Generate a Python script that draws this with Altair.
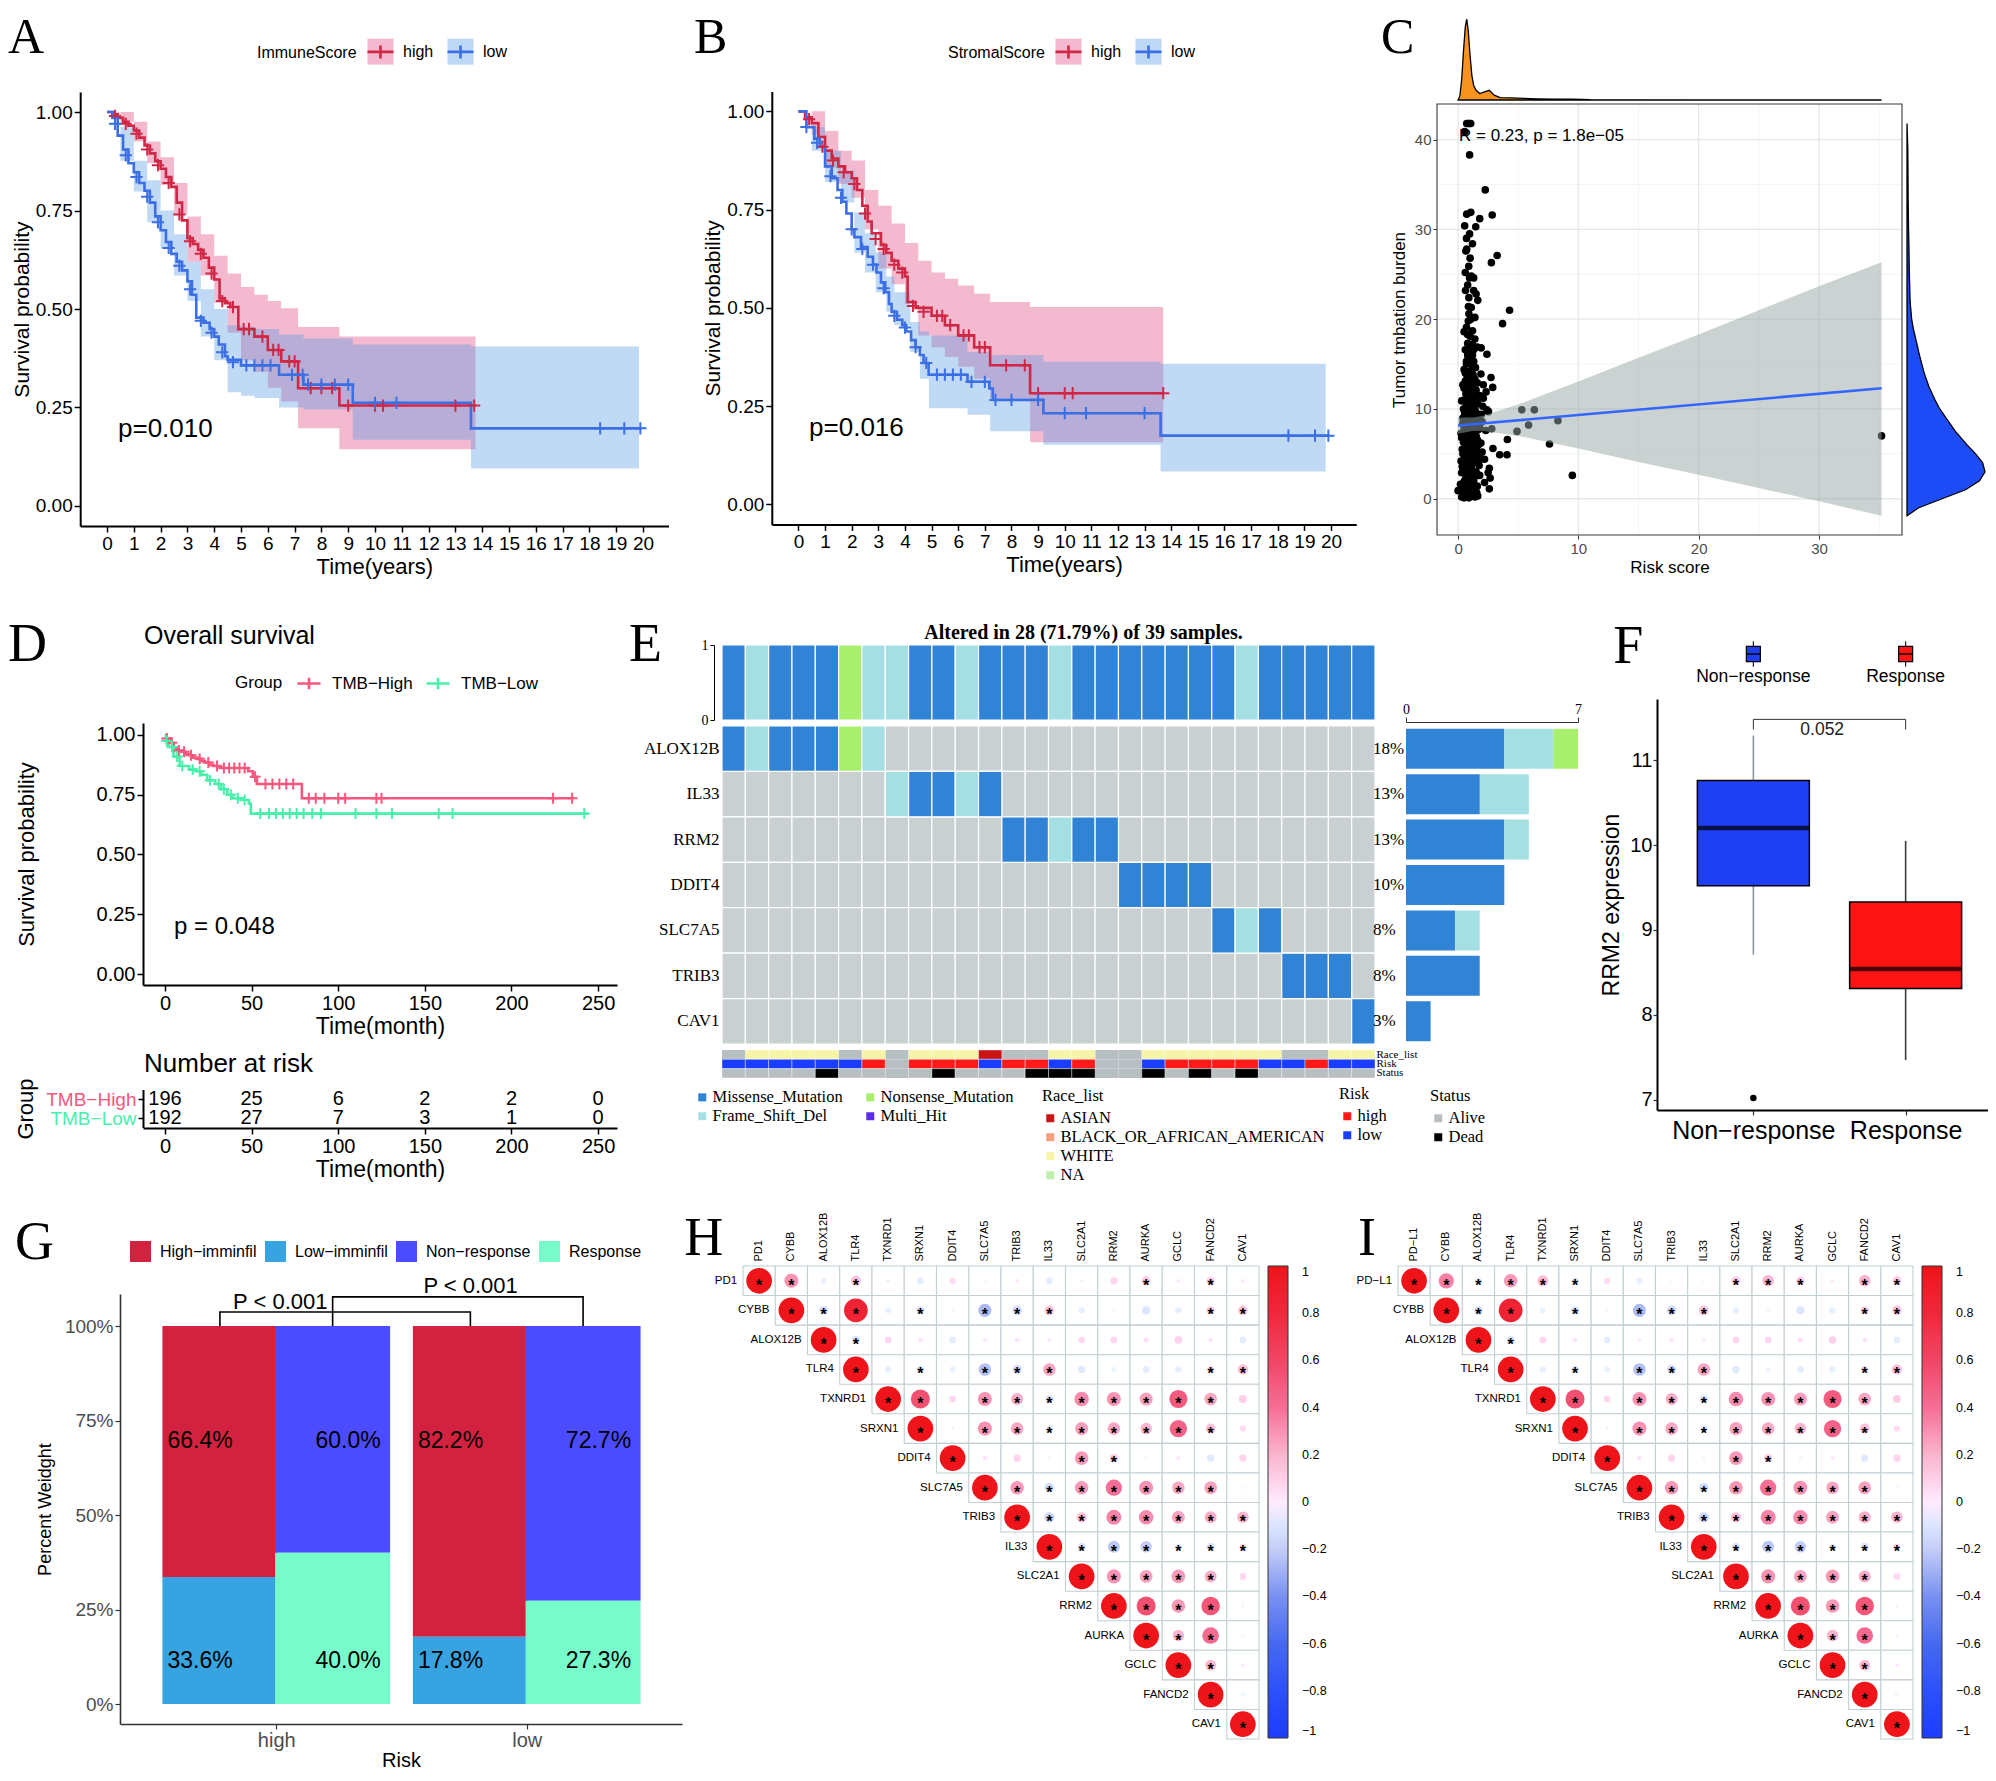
import altair as alt
import pandas as pd

W, H = 1980, 1765
SANS = "Liberation Sans"
SERIF = "Liberation Serif"
M = "\u2212"


def P(v):
    return v - 8


ONE = pd.DataFrame({"k": [0]})
PLUS = "M-1,0H1M0,-1V1"
KEY = "M-1,0H1M0,-0.5V0.5"

# ---------------- Panel A data ----------------
A_high_t = [0, 0.2, 0.4, 0.6, 0.8, 1.0, 1.2, 1.4, 1.6, 1.8, 2.0, 2.2, 2.4, 2.6, 2.8, 3.0, 3.2, 3.4, 3.6, 3.8,
            4.0, 4.2, 4.4, 4.6, 4.9, 5.5, 6.0, 6.5, 7.13, 8.67, 13.75]
A_high_s = [1.0, 0.995, 0.985, 0.975, 0.965, 0.953, 0.935, 0.915, 0.895, 0.875, 0.856, 0.835, 0.81, 0.77, 0.725,
            0.68, 0.665, 0.65, 0.63, 0.605, 0.575, 0.527, 0.515, 0.505, 0.449, 0.43, 0.396, 0.367, 0.299, 0.255, 0.255]
A_low_t = [0, 0.2, 0.4, 0.6, 0.8, 1.0, 1.2, 1.4, 1.6, 1.8, 2.0, 2.2, 2.4, 2.6, 2.8, 3.0, 3.17, 3.33, 3.6, 3.83,
           4.0, 4.17, 4.4, 4.5, 5.0, 6.42, 7.33, 9.17, 13.58, 19.95]
A_low_s = [1.0, 0.985, 0.94, 0.905, 0.87, 0.847, 0.82, 0.8, 0.77, 0.735, 0.70, 0.67, 0.64, 0.62, 0.598, 0.57,
           0.536, 0.478, 0.465, 0.449, 0.43, 0.41, 0.38, 0.371, 0.357, 0.333, 0.308, 0.262, 0.197, 0.197]
A_hband_t = [0, 0.5, 1.0, 1.5, 2.0, 2.5, 3.0, 3.5, 4.0, 4.5, 5.0, 5.5, 6.0, 6.5, 7.13, 8.67, 13.75]
A_hband_lo = [1.0, 0.975, 0.925, 0.87, 0.815, 0.74, 0.62, 0.585, 0.515, 0.44, 0.37, 0.34, 0.30, 0.265, 0.197, 0.144, 0.144]
A_hband_hi = [1.0, 1.0, 0.975, 0.925, 0.885, 0.82, 0.735, 0.69, 0.635, 0.59, 0.556, 0.536, 0.52, 0.502, 0.454, 0.43, 0.43]
A_lband_t = [0, 0.5, 1.0, 1.5, 2.0, 2.5, 3.0, 3.5, 4.0, 4.5, 5.0, 5.5, 6.42, 7.33, 9.17, 13.58, 19.85]
A_lband_lo = [1.0, 0.876, 0.798, 0.72, 0.653, 0.585, 0.52, 0.43, 0.37, 0.289, 0.28, 0.274, 0.25, 0.245, 0.168, 0.095, 0.095]
A_lband_hi = [1.0, 0.963, 0.876, 0.827, 0.75, 0.69, 0.62, 0.55, 0.5, 0.459, 0.455, 0.449, 0.435, 0.425, 0.41, 0.405, 0.405]
A_cens_high = [(0.3, 0.99), (0.7, 0.97), (1.1, 0.945), (1.5, 0.905), (1.9, 0.865), (2.3, 0.82), (2.7, 0.74),
               (3.1, 0.672), (3.5, 0.64), (3.9, 0.59), (4.3, 0.52), (4.7, 0.505), (5.1, 0.449), (5.3, 0.449),
               (5.8, 0.43), (6.2, 0.396), (6.4, 0.396), (6.8, 0.367), (7.0, 0.367), (7.6, 0.299), (8.0, 0.299),
               (8.4, 0.299), (9.0, 0.255), (10.0, 0.255), (10.3, 0.255), (13.0, 0.255), (13.7, 0.255)]
A_cens_low = [(0.3, 0.97), (0.7, 0.89), (1.1, 0.835), (1.5, 0.785), (1.9, 0.72), (2.3, 0.655), (2.7, 0.61),
              (3.1, 0.55), (3.5, 0.47), (3.9, 0.44), (4.3, 0.39), (4.7, 0.365), (5.2, 0.357), (5.5, 0.357),
              (5.8, 0.357), (6.1, 0.357), (6.9, 0.333), (7.3, 0.333), (7.5, 0.308), (8.0, 0.308), (8.5, 0.308),
              (9.0, 0.308), (10.0, 0.262), (10.8, 0.262), (18.4, 0.197), (19.3, 0.197), (19.9, 0.197)]

# ---------------- Panel B data ----------------
B_high_t = [0, 0.25, 0.5, 0.75, 1.0, 1.25, 1.5, 1.75, 2.0, 2.2, 2.4, 2.6, 2.75, 3.1, 3.3, 3.5, 3.75, 4.0, 4.1,
            4.4, 5.0, 5.5, 6.0, 6.6, 7.2, 8.7, 13.7]
B_high_s = [1.0, 0.985, 0.97, 0.935, 0.9, 0.88, 0.86, 0.845, 0.83, 0.8, 0.76, 0.72, 0.69, 0.66, 0.64, 0.62, 0.60,
            0.58, 0.515, 0.50, 0.48, 0.456, 0.43, 0.40, 0.354, 0.283, 0.283]
B_low_t = [0, 0.3, 0.6, 0.8, 1.0, 1.25, 1.47, 1.65, 1.8, 2.0, 2.1, 2.35, 2.6, 2.8, 2.93, 3.1, 3.26, 3.4, 3.5, 3.7,
           3.9, 4.05, 4.23, 4.4, 4.56, 4.7, 4.89, 6.35, 7.17, 7.3, 9.2, 13.6, 19.95]
B_low_s = [1.0, 0.96, 0.93, 0.91, 0.86, 0.83, 0.80, 0.77, 0.74, 0.70, 0.68, 0.655, 0.63, 0.61, 0.59, 0.565, 0.54,
           0.51, 0.49, 0.47, 0.456, 0.44, 0.418, 0.40, 0.38, 0.36, 0.33, 0.312, 0.295, 0.266, 0.232, 0.175, 0.175]
B_hband_t = [0, 0.5, 1.0, 1.5, 2.0, 2.5, 3.0, 3.5, 4.0, 4.5, 5.0, 5.5, 6.0, 6.6, 7.2, 8.7, 13.7]
B_hband_lo = [1.0, 0.94, 0.855, 0.815, 0.78, 0.70, 0.60, 0.56, 0.51, 0.43, 0.40, 0.375, 0.35, 0.32, 0.27, 0.158, 0.152]
B_hband_hi = [1.0, 1.0, 0.95, 0.90, 0.875, 0.80, 0.76, 0.715, 0.665, 0.62, 0.59, 0.574, 0.557, 0.536, 0.515, 0.502, 0.502]
B_lband_t = [0, 0.5, 1.0, 1.6, 2.1, 2.5, 2.9, 3.3, 3.6, 4.2, 4.56, 4.9, 6.35, 7.2, 9.2, 13.6, 19.8]
B_lband_lo = [1.0, 0.90, 0.82, 0.768, 0.64, 0.59, 0.54, 0.49, 0.456, 0.388, 0.32, 0.245, 0.228, 0.186, 0.152, 0.084, 0.084]
B_lband_hi = [1.0, 0.96, 0.90, 0.85, 0.743, 0.69, 0.641, 0.58, 0.54, 0.464, 0.44, 0.43, 0.388, 0.38, 0.363, 0.358, 0.358]
B_cens_high = [(0.4, 0.98), (0.9, 0.91), (1.3, 0.875), (1.7, 0.845), (2.1, 0.815), (2.5, 0.74), (2.9, 0.675),
               (3.2, 0.65), (3.6, 0.61), (3.9, 0.59), (4.3, 0.505), (4.7, 0.49), (5.2, 0.48), (5.4, 0.48),
               (5.7, 0.456), (6.2, 0.43), (6.4, 0.43), (6.8, 0.40), (7.0, 0.40), (7.8, 0.354), (8.5, 0.354),
               (9.0, 0.283), (10.0, 0.283), (10.3, 0.283), (13.7, 0.283)]
B_cens_low = [(0.3, 0.96), (0.7, 0.92), (1.2, 0.835), (1.6, 0.78), (2.0, 0.70), (2.4, 0.65), (2.8, 0.61),
              (3.2, 0.55), (3.6, 0.48), (4.0, 0.45), (4.4, 0.40), (4.8, 0.36), (5.2, 0.33), (5.5, 0.33),
              (5.8, 0.33), (6.1, 0.33), (6.5, 0.312), (7.0, 0.312), (7.4, 0.266), (8.0, 0.266), (9.0, 0.266),
              (10.0, 0.232), (10.8, 0.232), (13.0, 0.232), (18.4, 0.175), (19.4, 0.175), (19.9, 0.175)]

# ---------------- Panel C data ----------------
C_points = [
    (0.72, 41.8), (0.85, 41.8), (0.96, 41.8), (1.05, 41.8), (0.55, 40.9), (0.96, 38.3), (2.26, 34.4), (2.84, 31.6),
    (0.72, 31.7), (1.06, 31.9), (1.8, 31.2), (0.55, 30.4), (0.96, 29.5), (1.47, 30.3), (0.72, 27.8), (0.65, 27.6),
    (3.25, 27.1), (2.77, 26.3), (0.89, 25.9), (0.96, 24.6), (1.3, 24.6), (1.1, 24.8), (0.62, 23.2), (1.3, 23.2),
    (1.5, 22.8), (1.64, 22.1), (4.28, 21.0), (3.7, 19.5), (0.86, 21.4), (0.9, 20.6), (1.06, 20.0), (0.85, 19.8),
    (0.79, 18.3), (1.4, 17.8), (1.2, 17.2), (1.92, 16.8), (1.6, 16.9), (2.4, 16.1),
    (2.74, 13.5), (2.88, 12.4), (2.33, 11.9), (2.1, 11.2), (2.53, 9.7), (2.4, 9.9), (5.3, 9.9), (6.34, 9.9),
    (5.86, 8.2), (8.3, 8.7), (4.9, 7.5), (4.1, 6.6), (7.6, 6.1), (3.46, 4.9), (4.07, 4.9), (2.9, 5.6), (9.5, 2.6),
    (35.2, 7.0), (2.67, 2.3), (2.6, 1.1), (0.0, 0.9), (1.64, 0.3), (2.2, 4.4), (2.0, 5.2), (2.6, 3.4), (2.3, 7.6),
    (2.8, 7.8), (2.0, 8.6), (1.9, 13.9), (2.1, 12.7), (2.5, 2.9), (2.2, 1.8),
    (0.3, 0.2), (0.5, 0.1), (0.7, 0.3), (0.9, 0.1), (1.1, 0.4), (1.4, 0.2), (0.4, 1.2), (0.8, 1.5), (1.2, 1.1),
    (1.6, 1.4), (0.6, 2.1), (1.0, 2.4), (1.3, 2.0), (1.8, 2.6), (0.3, 2.9), (0.7, 3.2), (1.1, 3.5), (1.5, 3.0),
    (0.5, 3.9), (0.9, 4.2), (1.3, 4.5), (1.7, 4.1), (0.4, 5.0), (0.8, 5.3), (1.2, 5.6), (1.6, 5.2), (0.6, 6.1),
    (1.0, 6.4), (1.4, 6.0), (0.3, 6.8), (0.7, 7.1), (1.1, 7.4), (1.5, 7.0), (0.5, 7.9), (0.9, 8.2), (1.3, 8.5),
    (1.8, 8.0), (0.4, 9.0), (0.8, 9.3), (1.2, 9.6), (1.6, 9.1), (0.6, 10.1), (1.0, 10.4), (1.4, 10.0), (0.5, 11.0),
    (0.9, 11.3), (1.3, 11.6), (0.7, 12.2), (1.1, 12.5), (1.5, 12.1), (0.6, 13.1), (1.0, 13.4), (1.4, 13.0),
    (0.8, 14.2), (1.2, 14.5), (0.7, 15.3), (1.1, 15.0), (0.9, 16.2), (1.3, 16.6), (0.8, 17.3), (1.0, 18.1),
    (0.6, 4.6), (1.0, 1.8), (0.5, 8.6), (1.2, 3.9), (0.8, 10.8), (1.6, 6.6), (0.4, 12.7), (1.3, 9.0), (0.7, 5.8),
    (1.0, 7.7), (0.9, 2.8), (1.5, 11.0), (0.6, 14.0), (1.2, 16.0), (0.35, 3.6), (0.45, 6.3), (0.55, 9.6),
    (0.65, 11.7), (0.75, 13.7), (0.85, 15.8), (0.95, 0.7), (1.05, 3.0), (1.15, 5.1), (1.25, 7.0), (1.35, 12.9),
    (1.45, 14.6), (1.55, 8.3), (1.65, 10.6), (1.75, 3.7), (0.25, 4.2), (0.2, 1.6), (0.85, 6.9), (1.15, 9.9),
    (0.95, 12.0), (1.05, 15.6), (0.65, 8.9), (1.35, 4.8), (1.45, 2.5), (0.75, 0.9)]
C_points_extra = [
    (0.3, 1.0), (0.5, 1.9), (0.7, 2.5), (0.9, 3.6), (1.1, 4.8), (1.3, 5.9), (1.5, 6.8), (1.7, 7.7), (0.4, 8.4),
    (0.6, 9.4), (0.8, 10.3), (1.0, 11.2), (1.2, 12.1), (1.4, 13.3), (0.5, 14.4), (0.7, 15.0), (0.9, 13.9),
    (1.1, 13.0), (1.3, 11.0), (1.5, 9.6), (1.7, 6.0), (0.35, 5.5), (0.55, 4.4), (0.75, 3.9), (0.95, 5.8),
    (1.15, 2.2), (1.35, 1.3), (1.55, 0.7), (0.45, 0.6), (0.65, 1.2), (0.85, 2.0), (1.05, 4.1), (1.25, 6.3),
    (1.45, 7.9), (1.65, 9.0), (0.3, 10.9), (0.5, 12.3), (0.7, 10.7), (0.9, 9.7), (1.1, 8.8), (1.3, 7.5),
    (1.5, 5.5), (0.6, 16.6), (0.8, 16.0), (1.0, 17.0), (1.2, 18.7), (0.7, 19.1), (0.9, 22.4), (1.1, 21.3),
    (0.8, 23.8), (1.0, 26.8), (0.7, 29.0), (1.2, 28.4), (0.6, 25.2), (1.4, 20.2), (0.5, 18.6), (1.3, 15.3),
    (1.6, 12.9), (1.8, 11.5), (1.9, 6.2), (1.85, 4.5), (1.95, 9.4), (2.05, 10.3), (0.4, 3.1), (0.6, 7.4),
    (0.8, 8.0), (1.0, 9.0), (1.2, 10.6), (1.4, 8.9), (0.25, 7.3), (0.45, 10.0), (0.65, 12.9), (0.85, 11.9),
    (1.05, 14.2), (1.25, 13.8)]
C_fit_x = [0, 1.2, 2, 5, 10, 15, 20, 25, 30, 35.2]
C_fit_lo = [7.25, 7.54, 7.57, 7.0, 5.6, 4.1, 2.66, 1.2, -0.29, -1.9]
C_fit_hi = [9.05, 9.04, 9.21, 10.5, 13.06, 15.7, 18.3, 21.0, 23.67, 26.35]
C_line_x = [0, 35.2]
C_line_y = [8.15, 12.3]
C_dens_x = [0, 0.15, 0.3, 0.45, 0.6, 0.72, 0.85, 1.0, 1.15, 1.3, 1.5, 1.8, 2.2, 2.6, 3.0, 3.5, 4.5, 5.5, 6.5, 8,
            9.5, 11, 15, 20, 25, 30, 35.2]
C_dens_xd = [0, 0.05, 0.25, 0.6, 0.9, 1.0, 0.85, 0.55, 0.3, 0.18, 0.12, 0.08, 0.1, 0.12, 0.06, 0.03, 0.025, 0.02,
             0.015, 0.01, 0.012, 0.004, 0.002, 0.001, 0.001, 0.001, 0.0]
C_dens_y = [-1.9, -1.0, 0, 1, 2, 3, 4, 5, 6, 7.5, 9, 10, 11, 12.5, 14, 15, 16, 17.5, 19, 20, 22, 25, 28, 30, 33,
            36, 39, 41.8]
C_dens_yd = [0.0, 0.15, 0.45, 0.75, 0.93, 1.0, 0.97, 0.88, 0.77, 0.62, 0.5, 0.42, 0.36, 0.28, 0.22, 0.19, 0.16,
             0.12, 0.08, 0.06, 0.04, 0.03, 0.025, 0.02, 0.015, 0.013, 0.01, 0.0]
C_grid_major_x = [0, 10, 20, 30]
C_grid_minor_x = [5, 15, 25, 35]
C_grid_major_y = [0, 10, 20, 30, 40]
C_grid_minor_y = [5, 15, 25, 35]

# ---------------- Panel D data ----------------
D_groups = ["TMB" + M + "High", "TMB" + M + "Low"]
D_high_t = [0, 1, 2.7, 5, 7, 9.6, 12, 14, 16, 18.7, 21, 23, 26, 28, 32, 48, 50.7, 53, 79, 236]
D_high_s = [1.0, 0.985, 0.967, 0.945, 0.935, 0.93, 0.92, 0.915, 0.905, 0.9, 0.89, 0.885, 0.875, 0.87, 0.862,
            0.848, 0.825, 0.795, 0.735, 0.735]
D_low_t = [0, 0.5, 2, 5, 8.4, 14, 18, 21, 24.4, 29, 32.4, 36, 39, 45, 48.4, 49.5, 244]
D_low_s = [1.0, 0.975, 0.95, 0.91, 0.87, 0.855, 0.848, 0.833, 0.81, 0.795, 0.773, 0.75, 0.735, 0.728, 0.713,
           0.671, 0.671]
D_cens_high = [(1, 0.985), (4, 0.967), (8, 0.935), (11, 0.93), (15, 0.915), (20, 0.9), (25, 0.885), (30, 0.87),
               (34, 0.862), (37, 0.862), (40, 0.862), (43, 0.862), (46, 0.862), (52, 0.825), (58, 0.795),
               (62, 0.795), (66, 0.795), (70, 0.795), (74, 0.795), (83, 0.735), (87, 0.735), (92, 0.735),
               (100, 0.735), (104, 0.735), (122, 0.735), (125, 0.735), (224, 0.735), (235, 0.735)]
D_cens_low = [(1, 0.975), (4, 0.95), (7, 0.91), (10, 0.87), (16, 0.855), (20, 0.848), (26, 0.81), (31, 0.795),
              (34, 0.773), (38, 0.75), (42, 0.735), (46, 0.728), (55, 0.671), (60, 0.671), (64, 0.671),
              (68, 0.671), (72, 0.671), (76, 0.671), (80, 0.671), (85, 0.671), (90, 0.671), (110, 0.671),
              (122, 0.671), (131, 0.671), (158, 0.671), (166, 0.671), (242, 0.671)]
D_risk_times = [0, 50, 100, 150, 200, 250]
D_risk_high = [196, 25, 6, 2, 2, 0]
D_risk_low = [192, 27, 7, 3, 1, 0]

# ---------------- Panel E data ----------------
E_total = 39
E_samples = ["S%02d" % i for i in range(1, 29)]
E_genes = ["ALOX12B", "IL33", "RRM2", "DDIT4", "SLC7A5", "TRIB3", "CAV1"]
E_mut_gene = (["ALOX12B"] * 7 + ["IL33"] * 5 + ["RRM2"] * 5 + ["DDIT4"] * 4 + ["SLC7A5"] * 3 +
              ["TRIB3"] * 3 + ["CAV1"])
E_mut_code = list("MFMMMNF" + "FMMFM" + "MMFMM" + "MMMM" + "MFM" + "MMM" + "M")
E_type_names = {"M": "Missense_Mutation", "F": "Frame_Shift_Del", "N": "Nonsense_Mutation", "H": "Multi_Hit"}
E_race = [None, "WHITE", "WHITE", "WHITE", "WHITE", None, "WHITE", None, "WHITE", "WHITE", "WHITE", "ASIAN",
          None, None, "WHITE", "WHITE", None, None, "WHITE", "WHITE", "WHITE", "WHITE", "WHITE", "WHITE",
          None, None, "WHITE", "WHITE"]
E_risk = ["low"] * 6 + ["high", None, "high", "high", "high", "low", "high", "high", "low", "high", None, None,
                        "low", "high", "high", "high", "high", "low", "low", "high", "low", "low"]
E_status = ["Alive"] * 4 + ["Dead", "Alive", "Alive", None, "Alive", "Dead", "Alive", "Alive", "Alive", "Dead",
                            "Dead", "Dead", None, None, "Dead", "Alive", "Dead", "Alive", "Dead", "Alive",
                            "Alive", "Alive", "Alive", "Alive"]

# ---------------- Panel F data ----------------
F_groups = ["Non" + M + "response", "Response"]
F_q1 = [9.52, 8.31]
F_med = [10.2, 8.54]
F_q3 = [10.76, 9.33]
F_wlo = [8.71, 7.47]
F_whi = [11.29, 10.05]
F_out_grp = ["Non" + M + "response"]
F_out_val = [7.02]

# ---------------- Panel G data ----------------
G_risk = ["high", "high", "high", "high", "low", "low", "low", "low"]
G_kind = ["imm", "imm", "resp", "resp", "imm", "imm", "resp", "resp"]
G_cat = ["High" + M + "imminfil", "Low" + M + "imminfil", "Non" + M + "response", "Response"] * 2
G_pct = [0.664, 0.336, 0.600, 0.400, 0.822, 0.178, 0.727, 0.273]

# ---------------- Panels H / I data ----------------
HI_rest = ["CYBB", "ALOX12B", "TLR4", "TXNRD1", "SRXN1", "DDIT4", "SLC7A5", "TRIB3", "IL33", "SLC2A1", "RRM2",
           "AURKA", "GCLC", "FANCD2", "CAV1"]
R_PD1 = [0.30, -0.05, 0.15, 0.02, -0.07, 0.06, -0.02, 0.02, -0.07, 0.01, 0.08, 0.12, 0.02, 0.10, 0.02]
S_PD1 = [1, 0, 1, 0, 0, 0, 0, 0, 0, 0, 0, 1, 0, 1, 0]
R_PDL1 = [0.35, -0.07, 0.28, 0.18, -0.07, 0.06, -0.06, -0.02, -0.02, 0.12, 0.20, 0.11, 0.02, 0.20, 0.12]
S_PDL1 = [1, 1, 1, 1, 1, 0, 0, 0, 0, 1, 1, 1, 0, 1, 1]
R_rows = [
    [-0.12, 0.85, -0.05, -0.10, -0.02, -0.26, -0.14, 0.14, -0.06, -0.02, -0.10, -0.06, 0.10, 0.14],
    [-0.10, 0.07, 0.03, -0.07, 0.02, 0.03, 0.02, 0.07, 0.07, 0.04, 0.09, 0.03, -0.07],
    [-0.06, -0.08, -0.05, -0.24, -0.13, 0.24, -0.08, -0.04, -0.07, -0.06, 0.07, 0.16],
    [0.55, 0.07, 0.30, 0.22, -0.10, 0.32, 0.30, 0.26, 0.50, 0.24, 0.10],
    [0.01, 0.30, 0.24, -0.07, 0.26, 0.24, 0.20, 0.46, 0.15, 0.06],
    [0.03, 0.08, -0.02, 0.28, 0.10, -0.02, 0.02, -0.08, 0.08],
    [0.28, -0.14, 0.28, 0.40, 0.30, 0.24, 0.25, -0.02],
    [-0.16, 0.16, 0.34, 0.32, 0.25, 0.22, 0.20],
    [-0.10, -0.22, -0.20, -0.06, -0.10, 0.07],
    [0.30, 0.25, 0.28, 0.22, 0.07],
    [0.55, 0.28, 0.52, 0.01],
    [0.20, 0.42, -0.02],
    [0.18, 0.02],
    [-0.03],
]
S_rows = [
    [1, 1, 0, 1, 0, 1, 1, 1, 0, 0, 0, 0, 1, 1],
    [1, 0, 0, 0, 0, 0, 0, 0, 0, 0, 0, 0, 0],
    [0, 1, 0, 1, 1, 1, 0, 0, 0, 0, 1, 1],
    [1, 0, 1, 1, 1, 1, 1, 1, 1, 1, 0],
    [0, 1, 1, 1, 1, 1, 1, 1, 1, 0],
    [0, 0, 0, 1, 1, 0, 0, 0, 0],
    [1, 1, 1, 1, 1, 1, 1, 0],
    [1, 1, 1, 1, 1, 1, 1],
    [1, 1, 1, 1, 1, 1],
    [1, 1, 1, 1, 0],
    [1, 1, 1, 0],
    [1, 1, 0],
    [1, 0],
    [0],
]
CB_values = [1, 0.8, 0.6, 0.4, 0.2, 0, -0.2, -0.4, -0.6, -0.8, -1]


# ================= helpers =================
def ax_bottom(yline, **kw):
    base = dict(orient="bottom", offset=P(yline) - H, labelOverlap=False, labelFlush=False, grid=False,
                labelFont=SANS, titleFont=SANS, titleFontWeight="normal")
    base.update(kw)
    return alt.Axis(**base)


def ax_left(xline, **kw):
    base = dict(orient="left", offset=-P(xline), labelOverlap=False, labelFlush=False, grid=False,
                labelFont=SANS, titleFont=SANS, titleFontWeight="normal")
    base.update(kw)
    return alt.Axis(**base)


class Frame:
    """Scales + axes of one sub-panel; every layer of the sub-panel uses the same ones."""

    def __init__(self, xs, ys, ax=None, ay=None):
        self.xs, self.ys, self.ax, self.ay = xs, ys, ax, ay

    def x(self, f, **kw):
        return alt.X(f, scale=self.xs, axis=self.ax, **kw)

    def y(self, f, **kw):
        return alt.Y(f, scale=self.ys, axis=self.ay, **kw)

    def xd(self, v):
        return alt.XDatum(v, scale=self.xs, axis=self.ax)

    def yd(self, v):
        return alt.YDatum(v, scale=self.ys, axis=self.ay)

    def note(self, txt, x, y, **kw):
        return alt.Chart(ONE).mark_text(text=txt, **kw).encode(x=self.xd(x), y=self.yd(y))

    def letter(self, ch, x, y, size=54, **kw):
        return self.note(ch, x, y, font=SERIF, fontSize=size, align="left", baseline="alphabetic",
                         color="black", **kw)


def pairs_df(pts_a, pts_b, ga, gb, col):
    return pd.DataFrame({"t": [p[0] for p in pts_a] + [p[0] for p in pts_b],
                         "s": [p[1] for p in pts_a] + [p[1] for p in pts_b],
                         col: [ga] * len(pts_a) + [gb] * len(pts_b)})


def km_layers(fr, lines, cens, dom, colors, leg_stroke, bands=None, fills=None, leg_fill=None, csize=150):
    layers = []
    if bands is not None:
        layers.append(alt.Chart(bands).mark_area(interpolate="step-after", opacity=0.38).encode(
            x=fr.x("t:Q"), y=fr.y("lo:Q"), y2=alt.Y2("hi"),
            fill=alt.Fill("grp:N", scale=alt.Scale(range=fills), legend=leg_fill)))
    stroke = alt.Stroke("grp2:N", scale=alt.Scale(domain=dom, range=colors), legend=leg_stroke)
    layers.append(alt.Chart(lines).mark_line(interpolate="step-after", strokeWidth=2.6).encode(
        x=fr.x("t:Q"), y=fr.y("s:Q"), stroke=stroke))
    layers.append(alt.Chart(cens).mark_point(shape=PLUS, size=csize, strokeWidth=2, filled=False,
                                             opacity=1).encode(x=fr.x("t:Q"), y=fr.y("s:Q"), stroke=stroke))
    return layers


def km_legends(x, y, title):
    common = dict(orient="none", legendX=P(x), legendY=P(y), direction="horizontal", title=title,
                  titleOrient="left", titleAnchor="middle", titleBaseline="middle", titleFontSize=16,
                  titleFont=SANS, titleFontWeight="normal", titlePadding=9, labelFontSize=16, labelFont=SANS,
                  labelOffset=8, columnPadding=8, symbolSize=676, symbolStrokeWidth=2.6, padding=0)
    lf = alt.Legend(symbolType="square", symbolOpacity=0.38, symbolStrokeColor="transparent", **common)
    ls = alt.Legend(symbolType=KEY, symbolOpacity=1, titleOpacity=0, labelOpacity=0, **common)
    return lf, ls


KM_RED, KM_BLUE = "#CF2846", "#3B6FE3"
KM_FILLS = ["#E0487E", "#5A9BE6"]


def km_panel(xs, ys, xline, yline, lh, ll, bh, bl, ch, cl, legx, legtitle, ptxt, pxy, letxy):
    lines = pd.DataFrame({"t": lh[0] + ll[0], "s": lh[1] + ll[1],
                          "grp2": ["high"] * len(lh[0]) + ["low"] * len(ll[0])})
    bands = pd.DataFrame({"t": bh[0] + bl[0], "lo": bh[1] + bl[1], "hi": bh[2] + bl[2],
                          "grp": ["high"] * len(bh[0]) + ["low"] * len(bl[0])})
    cens = pairs_df(ch, cl, "high", "low", "grp2")
    ax = ax_bottom(yline, values=list(range(21)), title="Time(years)", labelFontSize=19, titleFontSize=22,
                   tickSize=6, tickWidth=1.5, domainWidth=2, labelPadding=2, titlePadding=3,
                   domainColor="black", tickColor="black", labelColor="black", titleColor="black")
    ay = ax_left(xline, values=[0, 0.25, 0.5, 0.75, 1], format=".2f", title="Survival probability",
                 labelFontSize=19, titleFontSize=21, tickSize=6, tickWidth=1.5, domainWidth=2, labelPadding=2,
                 titlePadding=3, domainColor="black", tickColor="black", labelColor="black", titleColor="black")
    fr = Frame(xs, ys, ax, ay)
    lf, ls = km_legends(legx, 37, legtitle)
    layers = km_layers(fr, lines, cens, ["high", "low"], [KM_RED, KM_BLUE], ls,
                       bands=bands, fills=KM_FILLS, leg_fill=lf)
    layers.append(fr.note(ptxt, pxy[0], pxy[1], font=SANS, fontSize=26, align="left", baseline="middle",
                          color="black"))
    layers.append(fr.letter(letxy[2], letxy[0], letxy[1], size=50))
    return alt.layer(*layers)


# ================= Panel A =================
SXa = alt.Scale(domain=[-1.0, 20.95], range=[P(80.2), P(668.5)], nice=False, zero=False)
SYa = alt.Scale(domain=[-0.0508, 1.0508], range=[P(526), P(92)], nice=False, zero=False)
panelA = km_panel(SXa, SYa, 80.2, 526, (A_high_t, A_high_s), (A_low_t, A_low_s),
                  (A_hband_t, A_hband_lo, A_hband_hi), (A_lband_t, A_lband_lo, A_lband_hi),
                  A_cens_high, A_cens_low, 257, "ImmuneScore", "p=0.010", (0.41, 0.195), (-3.69, 1.1497, "A"))

# ================= Panel B =================
SXb = alt.Scale(domain=[-1.0, 20.95], range=[P(771.8), P(1356.3)], nice=False, zero=False)
SYb = alt.Scale(domain=[-0.0508, 1.0508], range=[P(524.4), P(91.4)], nice=False, zero=False)
panelB = km_panel(SXb, SYb, 771.8, 524.4, (B_high_t, B_high_s), (B_low_t, B_low_s),
                  (B_hband_t, B_hband_lo, B_hband_hi), (B_lband_t, B_lband_lo, B_lband_hi),
                  B_cens_high, B_cens_low, 948, "StromalScore", "p=0.016", (0.40, 0.194), (-3.92, 1.1486, "B"))

# ================= Panel C =================
C_X0, C_X1, C_Y0, C_Y1 = -1.75, 36.9, -4.04, 43.97
SXc = alt.Scale(domain=[C_X0, C_X1], range=[P(1437), P(1902)], nice=False, zero=False)
SYc = alt.Scale(domain=[C_Y0, C_Y1], range=[P(535), P(104)], nice=False, zero=False)
axc_x = ax_bottom(535, values=[0, 10, 20, 30], title="Risk score", labelFontSize=15, titleFontSize=17,
                  labelColor="#4D4D4D", tickColor="#333333", tickSize=4, domain=False, labelPadding=2,
                  titlePadding=3, titleColor="black")
axc_y = ax_left(1437, values=[0, 10, 20, 30, 40], title="Tumor tmbation burden", labelFontSize=15,
                titleFontSize=17, labelColor="#4D4D4D", tickColor="#333333", tickSize=4, domain=False,
                labelPadding=2, titlePadding=6, titleColor="black")
frC = Frame(SXc, SYc, axc_x, axc_y)
C_df = pd.DataFrame(C_points + C_points_extra, columns=["risk", "tmb"])


def vgrid(vals, width, color):
    return alt.Chart(pd.DataFrame({"v": vals})).transform_calculate(
        a=str(C_Y0), b=str(C_Y1)).mark_rule(strokeWidth=width, color=color).encode(
        x=frC.x("v:Q"), y=frC.y("a:Q"), y2=alt.Y2("b"))


def hgrid(vals, width, color):
    return alt.Chart(pd.DataFrame({"v": vals})).transform_calculate(
        a=str(C_X0), b=str(C_X1)).mark_rule(strokeWidth=width, color=color).encode(
        y=frC.y("v:Q"), x=frC.x("a:Q"), x2=alt.X2("b"))


C_border = alt.Chart(ONE).transform_calculate(
    x0=str(C_X0), x1=str(C_X1), y0=str(C_Y0), y1=str(C_Y1)).mark_rect(
    fill="transparent", stroke="#3A3A3A", strokeWidth=1.1).encode(
    x=frC.x("x0:Q"), x2=alt.X2("x1"), y=frC.y("y0:Q"), y2=alt.Y2("y1"))
C_pts = alt.Chart(C_df).mark_circle(size=58, color="black", opacity=1).encode(
    x=frC.x("risk:Q"), y=frC.y("tmb:Q"))
C_band = alt.Chart(pd.DataFrame({"x": C_fit_x, "lo": C_fit_lo, "hi": C_fit_hi})).mark_area(
    color="#98A6A6", opacity=0.5).encode(x=frC.x("x:Q"), y=frC.y("lo:Q"), y2=alt.Y2("hi"))
C_fit = alt.Chart(pd.DataFrame({"x": C_line_x, "y": C_line_y})).mark_line(
    color="#3366FF", strokeWidth=2.6).encode(x=frC.x("x:Q"), y=frC.y("y:Q"))
panelC = alt.layer(
    vgrid(C_grid_minor_x, 0.7, "#EEF1F1"), hgrid(C_grid_minor_y, 0.7, "#EEF1F1"),
    vgrid(C_grid_major_x, 1.3, "#E3E8E8"), hgrid(C_grid_major_y, 1.3, "#E3E8E8"),
    C_border, C_pts, C_band, C_fit,
    frC.note("R = 0.23, p = 1.8e" + M + "05", 0.08, 40.35, font=SANS, fontSize=17, align="left",
             baseline="middle", color="black"),
    frC.letter("C", -6.4, 49.66, size=50))

SYct = alt.Scale(domain=[0, 1], range=[P(100), P(19)], nice=False, zero=False)
panelCtop = alt.Chart(pd.DataFrame({"x": C_dens_x, "d": C_dens_xd})).mark_area(
    fill="#F7931E", stroke="black", strokeWidth=1.3, opacity=1).encode(
    x=alt.X("x:Q", scale=SXc, axis=None), y=alt.Y("d:Q", scale=SYct, axis=None))
SXcr = alt.Scale(domain=[0, 1], range=[P(1907), P(1985)], nice=False, zero=False)
panelCright = alt.Chart(pd.DataFrame({"y": C_dens_y, "d": C_dens_yd})).mark_area(
    orient="horizontal", fill="#1D4CF6", stroke="black", strokeWidth=1.3, opacity=1).encode(
    y=alt.Y("y:Q", scale=SYc, axis=None), x=alt.X("d:Q", scale=SXcr, axis=None))

# ================= Panel D =================
D_HC, D_LC = "#F7577C", "#4AF0AA"
SXd = alt.Scale(domain=[-12.7, 260.9], range=[P(143), P(617)], nice=False, zero=False)
SYd = alt.Scale(domain=[-0.046, 1.05], range=[P(985), P(723)], nice=False, zero=False)
D_lines = pd.DataFrame({"t": D_high_t + D_low_t, "s": D_high_s + D_low_s,
                        "grp2": [D_groups[0]] * len(D_high_t) + [D_groups[1]] * len(D_low_t)})
D_cens = pairs_df(D_cens_high, D_cens_low, D_groups[0], D_groups[1], "grp2")
axd_x = ax_bottom(985, values=D_risk_times, title="Time(month)", labelFontSize=20, titleFontSize=23,
                  tickSize=6, tickWidth=1.5, domainWidth=2, labelPadding=2, titlePadding=2,
                  domainColor="black", tickColor="black", labelColor="black", titleColor="black")
axd_y = ax_left(143, values=[0, 0.25, 0.5, 0.75, 1], format=".2f", title="Survival probability",
                labelFontSize=20, titleFontSize=22, tickSize=6, tickWidth=1.5, domainWidth=2, labelPadding=2,
                titlePadding=58, domainColor="black", tickColor="black", labelColor="black", titleColor="black")
frD = Frame(SXd, SYd, axd_x, axd_y)
legD = alt.Legend(orient="none", legendX=P(235), legendY=P(670.5), direction="horizontal", title="Group",
                  titleOrient="left", titleAnchor="middle", titleBaseline="middle", titleFontSize=17,
                  titleFont=SANS, titleFontWeight="normal", titlePadding=13, labelFontSize=17, labelFont=SANS,
                  labelOffset=10, columnPadding=8, symbolType=KEY, symbolSize=529, symbolStrokeWidth=2.6,
                  padding=0)
D_layers = km_layers(frD, D_lines, D_cens, D_groups, [D_HC, D_LC], legD, csize=120)
D_layers += [
    frD.note("p = 0.048", 5.2, 0.197, font=SANS, fontSize=24, align="left", baseline="middle", color="black"),
    frD.note("Overall survival", -12.1, 1.414, font=SANS, fontSize=25, align="left", baseline="middle",
             color="black"),
    frD.note("Number at risk", -12.1, -0.377, font=SANS, fontSize=26, align="left", baseline="middle",
             color="black"),
    frD.letter("D", -90.6, 1.311),
]
panelD = alt.layer(*D_layers)

SYr = alt.Scale(domain=D_groups, range=[P(1089.5), P(1127.5)], paddingInner=0, paddingOuter=0)
D_rt = pd.DataFrame({"time": D_risk_times * 2, "grp": [D_groups[0]] * 6 + [D_groups[1]] * 6,
                     "n": D_risk_high + D_risk_low})
axr_x = ax_bottom(1128, values=D_risk_times, title="Time(month)", labelFontSize=20, titleFontSize=23,
                  tickSize=6, tickWidth=1.5, domainWidth=2, labelPadding=2, titlePadding=2,
                  domainColor="black", tickColor="black", labelColor="black", titleColor="black")
axr_y = ax_left(143, title="Group", titleFontSize=22, labelFontSize=19, tickSize=5, tickWidth=1.5,
                domainWidth=2, labelPadding=2, titlePadding=8, domainColor="black", tickColor="black",
                titleColor="black",
                labelColor={"condition": {"test": "datum.value === '%s'" % D_groups[0], "value": D_HC},
                            "value": D_LC})
panelDrisk = alt.Chart(D_rt).mark_text(fontSize=20, font=SANS, color="black").encode(
    x=alt.X("time:Q", scale=SXd, axis=axr_x), y=alt.Y("grp:N", scale=SYr, axis=axr_y), text="n:Q")

# ================= Panel E =================
MUT = alt.Scale(domain=["Missense_Mutation", "Frame_Shift_Del", "Nonsense_Mutation", "Multi_Hit"],
                range=["#3183D6", "#A4E0E3", "#A8EF6B", "#5B2EE8"])
E_mut = pd.DataFrame({"sample": E_samples, "gene": E_mut_gene, "type": [E_type_names[c] for c in E_mut_code]})
E_bg = pd.DataFrame([(g, s) for g in E_genes for s in E_samples], columns=["gene", "sample"])
ann_rows = []
for i, s in enumerate(E_samples):
    ann_rows.append({"sample": s, "row": "Race_list", "val": E_race[i]})
    ann_rows.append({"sample": s, "row": "Risk", "val": E_risk[i]})
    ann_rows.append({"sample": s, "row": "Status", "val": E_status[i]})
E_ann = pd.DataFrame(ann_rows)

SXe = alt.Scale(domain=E_samples, range=[P(722), P(1375)], paddingInner=0, paddingOuter=0)
SYe_top = alt.Scale(domain=[0, 1], range=[P(720), P(645)], nice=False, zero=True)
SYe_mat = alt.Scale(domain=E_genes, range=[P(726), P(1044)], paddingInner=0, paddingOuter=0)
SXe_r = alt.Scale(domain=[0, 7], range=[P(1406), P(1578)], nice=False, zero=True)
SYe_r = alt.Scale(domain=E_genes, range=[P(726), P(1044)], paddingInner=0.12, paddingOuter=0.06)
SYe_ann = alt.Scale(domain=["Race_list", "Risk", "Status"], range=[P(1050), P(1078)], paddingInner=0,
                    paddingOuter=0)

axe_top = ax_left(714, values=[0, 1], format="d", title=None, labelFont=SERIF, labelFontSize=14, tickSize=4,
                  labelPadding=2, domainColor="black", tickColor="black", labelColor="black")
frEt = Frame(SXe, SYe_top, None, axe_top)
panelEtop = alt.layer(
    alt.Chart(E_mut).mark_bar(stroke="white", strokeWidth=1.2).encode(
        x=frEt.x("sample:N"), y=frEt.y("count():Q"),
        color=alt.Color("type:N", scale=MUT, legend=None)),
    frEt.note("Altered in 28 (71.79%) of 39 samples.", "S16", 1.16, font=SERIF, fontSize=20,
              fontWeight="bold", align="center", baseline="middle", color="black"),
    frEt.letter("E", "S01", 0.787, dx=-104.7))

mut_leg = alt.Legend(orient="none", legendX=P(694), legendY=P(1089), title=None, columns=2, columnPadding=19,
                     rowPadding=2, symbolType="square", symbolSize=64, symbolStrokeWidth=0, labelFont=SERIF,
                     labelFontSize=16.5, labelOffset=2, padding=0, labelLimit=400)
axe_mat = ax_left(722, title=None, labelFont=SERIF, labelFontSize=17, ticks=False, domain=False,
                  labelPadding=3, labelColor="black")
frEm = Frame(SXe, SYe_mat, None, axe_mat)
panelEmat = alt.layer(
    alt.Chart(E_bg).mark_rect(color="#C8D0D2", stroke="white", strokeWidth=1.2).encode(
        x=frEm.x("sample:N"), y=frEm.y("gene:N")),
    alt.Chart(E_mut).mark_rect(stroke="white", strokeWidth=1.2).encode(
        x=frEm.x("sample:N"), y=frEm.y("gene:N"),
        color=alt.Color("type:N", scale=MUT, legend=mut_leg)))

axe_r = alt.Axis(orient="top", offset=-P(722), values=[0, 7], title=None, labelFont=SERIF, labelFontSize=14,
                 tickSize=5, labelPadding=1, domainColor="#333333", tickColor="#333333", labelColor="black",
                 grid=False, labelFlush=False, labelOverlap=False)
frEr = Frame(SXe_r, SYe_r, axe_r, None)
panelEright = alt.layer(
    alt.Chart(E_mut).transform_aggregate(n="count()", groupby=["gene", "type"]).transform_calculate(
        ord="indexof(['Missense_Mutation','Frame_Shift_Del','Nonsense_Mutation','Multi_Hit'], datum.type)"
    ).mark_bar().encode(
        x=frEr.x("n:Q", stack="zero"), y=frEr.y("gene:N"),
        color=alt.Color("type:N", scale=MUT, legend=None), order=alt.Order("ord:Q")),
    alt.Chart(E_mut).transform_aggregate(n="count()", groupby=["gene"]).transform_calculate(
        pct="round(datum.n / %d * 100) + '%%'" % E_total
    ).mark_text(font=SERIF, fontSize=17, align="left", baseline="middle", dx=-33, color="black").encode(
        x=frEr.xd(0), y=frEr.y("gene:N"), text="pct:N"))


def ann_leg(x, y, title):
    return alt.Legend(orient="none", legendX=P(x), legendY=P(y), title=title, titleFont=SERIF,
                      titleFontSize=16.5, titleFontWeight="normal", titlePadding=6, labelFont=SERIF,
                      labelFontSize=16.5, symbolType="square", symbolSize=64, symbolStrokeWidth=0,
                      rowPadding=2, labelOffset=2, padding=0, labelLimit=400)


axe_ann = alt.Axis(orient="right", offset=P(1375) - W, title=None, labelFont=SERIF, labelFontSize=11,
                   ticks=False, domain=False, labelPadding=1, labelColor="black", grid=False)
frEa = Frame(SXe, SYe_ann, None, axe_ann)
panelEann = alt.layer(
    alt.Chart(E_ann).mark_rect(color="#B7BFC3").encode(x=frEa.x("sample:N"), y=frEa.y("row:N")),
    alt.Chart(E_ann).transform_filter("datum.row == 'Race_list' && datum.val != null").mark_rect(
        stroke="white", strokeWidth=0.4).encode(
        x=frEa.x("sample:N"), y=frEa.y("row:N"),
        color=alt.Color("val:N", scale=alt.Scale(
            domain=["ASIAN", "BLACK_OR_AFRICAN_AMERICAN", "WHITE", "NA"],
            range=["#C81414", "#F4A07C", "#F6F4A6", "#BDEFA9"]), legend=ann_leg(1042, 1087.5, "Race_list"))),
    alt.Chart(E_ann).transform_filter("datum.row == 'Risk' && datum.val != null").mark_rect(
        stroke="white", strokeWidth=0.4).encode(
        x=frEa.x("sample:N"), y=frEa.y("row:N"),
        color=alt.Color("val:N", scale=alt.Scale(domain=["high", "low"], range=["#FF1A1A", "#1A3DFF"]),
                        legend=ann_leg(1339, 1085.5, "Risk"))),
    alt.Chart(E_ann).transform_filter("datum.row == 'Status' && datum.val != null").mark_rect(
        stroke="white", strokeWidth=0.4).encode(
        x=frEa.x("sample:N"), y=frEa.y("row:N"),
        color=alt.Color("val:N", scale=alt.Scale(domain=["Alive", "Dead"], range=["#B7BFC3", "#000000"]),
                        legend=ann_leg(1430, 1087.5, "Status"))),
).resolve_scale(color="independent")

# ================= Panel F =================
SXf = alt.Scale(domain=[0.4, 2.6], range=[P(1657), P(2002)], nice=False, zero=False)
SYf = alt.Scale(domain=[6.88, 11.72], range=[P(1110), P(699)], nice=False, zero=False)
F_df = pd.DataFrame({"grp": F_groups, "q1": F_q1, "med": F_med, "q3": F_q3, "wlo": F_wlo, "whi": F_whi})
F_pos = "datum.grp == 'Response' ? 2 : 1"
axf_x = ax_bottom(1110, values=[1, 2], labelExpr="datum.value == 1 ? '%s' : 'Response'" % F_groups[0],
                  title=None, labelFontSize=25, tickSize=5, tickWidth=1.2, domainWidth=2, labelPadding=3,
                  domainColor="black", tickColor="#333333", labelColor="black")
axf_y = ax_left(1657, values=[7, 8, 9, 10, 11], title="RRM2 expression", labelFontSize=20, titleFontSize=23,
                tickSize=4, tickWidth=1.2, domainWidth=2, labelPadding=1, titlePadding=6, domainColor="black",
                tickColor="#333333", labelColor="black", titleColor="black")
frF = Frame(SXf, SYf, axf_x, axf_y)
F_base = alt.Chart(F_df).transform_calculate(pos=F_pos)
F_fill = alt.Fill("grp:N", scale=alt.Scale(domain=F_groups, range=["#1E40F2", "#FF1414"]), legend=None)
BR_TOP, BR_LEG = 11.48, 11.36
F_br = pd.DataFrame({"pos": [1, 1, 2, 2], "v": [BR_LEG, BR_TOP, BR_TOP, BR_LEG], "o": [0, 1, 2, 3]})
panelF = alt.layer(
    F_base.mark_rule(strokeWidth=1.6).encode(
        x=frF.x("pos:Q"), y=frF.y("wlo:Q"), y2=alt.Y2("whi"),
        stroke=alt.Stroke("grp:N", scale=alt.Scale(domain=F_groups, range=["#8A98A2", "#3A3A3A"]),
                          legend=None)),
    F_base.mark_bar(size=112, stroke="black", strokeWidth=1.5).encode(
        x=frF.x("pos:Q"), y=frF.y("q1:Q"), y2=alt.Y2("q3"), fill=F_fill),
    F_base.mark_tick(orient="horizontal", size=112, thickness=4.5, color="black").encode(
        x=frF.x("pos:Q"), y=frF.y("med:Q")),
    alt.Chart(pd.DataFrame({"grp": F_out_grp, "val": F_out_val})).transform_calculate(pos=F_pos).mark_circle(
        size=42, color="black", opacity=1).encode(x=frF.x("pos:Q"), y=frF.y("val:Q")),
    alt.Chart(F_br).mark_line(color="#333333", strokeWidth=1).encode(
        x=frF.x("pos:Q"), y=frF.y("v:Q"), order="o:Q"),
    frF.note("0.052", 1.452, 11.36, font=SANS, fontSize=17.5, align="center", baseline="middle",
             color="#222222"),
    # legend keys (box icons above labels)
    F_base.transform_calculate(w0="12.1", w1="12.4").mark_rule(strokeWidth=1.2, color="#222222").encode(
        x=frF.x("pos:Q"), y=frF.y("w0:Q"), y2=alt.Y2("w1")),
    F_base.transform_calculate(i0="12.16", i1="12.34").mark_bar(size=14, stroke="black", strokeWidth=1.2).encode(
        x=frF.x("pos:Q"), y=frF.y("i0:Q"), y2=alt.Y2("i1"), fill=F_fill),
    F_base.transform_calculate(im="12.25").mark_tick(orient="horizontal", size=14, thickness=2,
                                                     color="black").encode(
        x=frF.x("pos:Q"), y=frF.y("im:Q")),
    F_base.transform_calculate(lt="11.98").mark_text(font=SANS, fontSize=17.5, baseline="middle",
                                                     color="black").encode(
        x=frF.x("pos:Q"), y=frF.y("lt:Q"), text="grp:N"),
    frF.letter("F", 0.08, 12.14))

# ================= Panel G =================
SXg = alt.Scale(domain=[0.396, 2.6], range=[P(120), P(682)], nice=False, zero=False)
SYg = alt.Scale(domain=[-0.0529, 1.0847], range=[P(1724), P(1294)], nice=False, zero=False)
G_df = pd.DataFrame({"risk": G_risk, "kind": G_kind, "cat": G_cat, "pct": G_pct})
G_xpos = "(datum.risk == 'high' ? 1 : 2) + (datum.kind == 'imm' ? -0.225 : 0.225)"
G_ord = "(datum.cat == 'Low%simminfil' || datum.cat == 'Response') ? 0 : 1" % M
G_base = alt.Chart(G_df).transform_calculate(xpos=G_xpos, ord=G_ord).transform_stack(
    stack="pct", groupby=["xpos"], sort=[alt.SortField("ord", order="ascending")], as_=["y0", "y1"])
G_leg = alt.Legend(orient="none", legendX=P(130), legendY=P(1241), direction="horizontal", title=None,
                   symbolType="square", symbolSize=441, symbolStrokeWidth=0, labelFontSize=16, labelFont=SANS,
                   labelOffset=9, columnPadding=8, padding=0)
axg_x = ax_bottom(1724, values=[1, 2], labelExpr="datum.value == 1 ? 'high' : 'low'", title="Risk",
                  labelFontSize=20, titleFontSize=20, tickSize=5, tickWidth=1.2, domainWidth=1.6,
                  labelPadding=1, titlePadding=0, domainColor="#333333", tickColor="#333333",
                  labelColor="#4D4D4D", titleColor="black")
axg_y = ax_left(120, values=[0, 0.25, 0.5, 0.75, 1], format=".0%", title="Percent Weidght", labelFontSize=19,
                titleFontSize=18, tickSize=5, tickWidth=1.2, domainWidth=1.6, labelPadding=2, titlePadding=10,
                domainColor="#333333", tickColor="#333333", labelColor="#4D4D4D", titleColor="black")
frG = Frame(SXg, SYg, axg_x, axg_y)
G_pos = {"high": 1, "low": 2}
G_dodge = {"imm": -0.225, "resp": 0.225}
G_cmp = [("imm", 1.037), ("resp", 1.077)]
br_rows = []
for k, (kind, top) in enumerate(G_cmp):
    xa = G_pos["high"] + G_dodge[kind]
    xb = G_pos["low"] + G_dodge[kind]
    for o, (xx, yy) in enumerate([(xa, 1.0), (xa, top), (xb, top), (xb, 1.0)]):
        br_rows.append({"xpos": xx, "y": yy, "o": o, "b": k})
G_br = pd.DataFrame(br_rows)
G_lab = G_base.transform_calculate(ly="datum.ord == 1 ? 0.695 : 0.113", lab="format(datum.pct, '.1%')")
panelG = alt.layer(
    G_base.mark_bar(size=115).encode(
        x=frG.x("xpos:Q"), y=frG.y("y0:Q"), y2=alt.Y2("y1"),
        fill=alt.Fill("cat:N", scale=alt.Scale(domain=G_cat[:4],
                                               range=["#D3223F", "#37A3E0", "#4B4BFF", "#78FBCB"]),
                      legend=G_leg)),
    G_lab.transform_filter("datum.kind == 'imm'").mark_text(
        align="left", dx=-52.5, fontSize=23, font=SANS, baseline="middle", color="black").encode(
        x=frG.x("xpos:Q"), y=frG.y("ly:Q"), text="lab:N"),
    G_lab.transform_filter("datum.kind == 'resp'").mark_text(
        align="right", dx=48, fontSize=23, font=SANS, baseline="middle", color="black").encode(
        x=frG.x("xpos:Q"), y=frG.y("ly:Q"), text="lab:N"),
    alt.Chart(G_br).mark_line(color="black", strokeWidth=1.6).encode(
        x=frG.x("xpos:Q"), y=frG.y("y:Q"), detail="b:N", order="o:Q"),
    frG.note("P < 0.001", 1.016, 1.063, font=SANS, fontSize=22, align="center", baseline="middle",
             color="black"),
    frG.note("P < 0.001", 1.776, 1.106, font=SANS, fontSize=22, align="center", baseline="middle",
             color="black"),
    frG.letter("G", -0.043, 1.177))

# ================= Panels H / I =================
CORR = alt.Scale(domain=[-1, -0.8, -0.6, -0.4, -0.2, 0, 0.2, 0.4, 0.6, 0.8, 1],
                 range=["#1E3CFF", "#2D50FA", "#4669F0", "#7891F0", "#C3CDF8", "#FFFFFF", "#FAB4CD",
                        "#F56E96", "#F04664", "#F0283C", "#EE1419"])


def corr_table(genes, first_r, first_s):
    rows = [first_r] + R_rows
    sigs = [first_s] + S_rows
    recs = []
    for i, g in enumerate(genes):
        recs.append({"row": g, "col": g, "r": 1.0, "sig": 1})
        if i < len(genes) - 1:
            for k, v in enumerate(rows[i]):
                recs.append({"row": g, "col": genes[i + 1 + k], "r": v, "sig": sigs[i][k]})
    return pd.DataFrame(recs)


def corr_panel(genes, first_r, first_s, x0, x1, cbx, ch, chdx):
    SX = alt.Scale(domain=genes, range=[P(x0), P(x1)], paddingInner=0, paddingOuter=0)
    SY = alt.Scale(domain=genes, range=[P(1266), P(1739)], paddingInner=0, paddingOuter=0)
    df = corr_table(genes, first_r, first_s)
    axx = alt.Axis(orient="top", offset=-P(1266), labelAngle=270, labelAlign="left", labelBaseline="middle",
                   labelPadding=5, ticks=False, domain=False, labelFontSize=11, labelFont=SANS,
                   labelColor="black", title=None, labelOverlap=False, grid=False)
    fr = Frame(SX, SY, axx, None)
    leg = alt.Legend(orient="none", legendX=P(cbx), legendY=P(1266), direction="vertical", gradientLength=472,
                     gradientThickness=20, title=None, values=CB_values, format="~g", labelFontSize=12.5,
                     labelFont=SANS, labelOffset=14, gradientStrokeColor="#333333", gradientStrokeWidth=1,
                     labelOverlap=False, padding=0)
    return alt.layer(
        alt.Chart(df).mark_rect(fill="white", stroke="#C2D0D5", strokeWidth=1.1).encode(
            x=fr.x("col:N"), y=fr.y("row:N")),
        alt.Chart(df).transform_calculate(absr="abs(datum.r)").mark_circle(opacity=1).encode(
            x=fr.x("col:N"), y=fr.y("row:N"),
            size=alt.Size("absr:Q", scale=alt.Scale(domain=[0, 1], range=[0, 660]), legend=None),
            color=alt.Color("r:Q", scale=CORR, legend=leg)),
        alt.Chart(df).transform_filter("datum.sig == 1").mark_text(
            text="*", fontSize=16, fontWeight="bold", dy=5, font=SANS, color="black").encode(
            x=fr.x("col:N"), y=fr.y("row:N")),
        alt.Chart(df).transform_filter("datum.row == datum.col").mark_text(
            align="right", baseline="middle", dx=-22, fontSize=11.5, font=SANS, color="black").encode(
            x=fr.x("col:N"), y=fr.y("row:N"), text="row:N"),
        alt.Chart(ONE).mark_text(text=ch, font=SERIF, fontSize=54, align="left", baseline="alphabetic",
                                 dx=chdx, dy=-26, color="black").encode(
            x=fr.xd(genes[0]), y=fr.yd(genes[0])))


panelH = corr_panel(["PD1"] + HI_rest, R_PD1, S_PD1, 743, 1259, 1268, "H", -75)
panelI = corr_panel(["PD" + M + "L1"] + HI_rest, R_PDL1, S_PDL1, 1398, 1913, 1922, "I", -56)

# ================= assemble =================
chart = alt.layer(
    panelA, panelB, panelC, panelCtop, panelCright, panelD, panelDrisk,
    panelEtop, panelEmat, panelEright, panelEann, panelF, panelG, panelH, panelI
).resolve_scale(
    x="independent", y="independent", color="independent", fill="independent", stroke="independent",
    size="independent"
).resolve_axis(x="independent", y="independent").resolve_legend(
    color="independent", fill="independent", stroke="independent", size="independent"
).properties(
    width=W, height=H, padding=0, autosize=alt.AutoSizeParams(type="none"), background="white"
).configure_view(stroke=None).configure_axis(
    labelFont=SANS, titleFont=SANS, titleFontWeight="normal", grid=False
).configure_legend(labelFont=SANS, titleFont=SANS, titleFontWeight="normal")

chart.save("out.html", embed_options={"renderer": "svg", "actions": False})
